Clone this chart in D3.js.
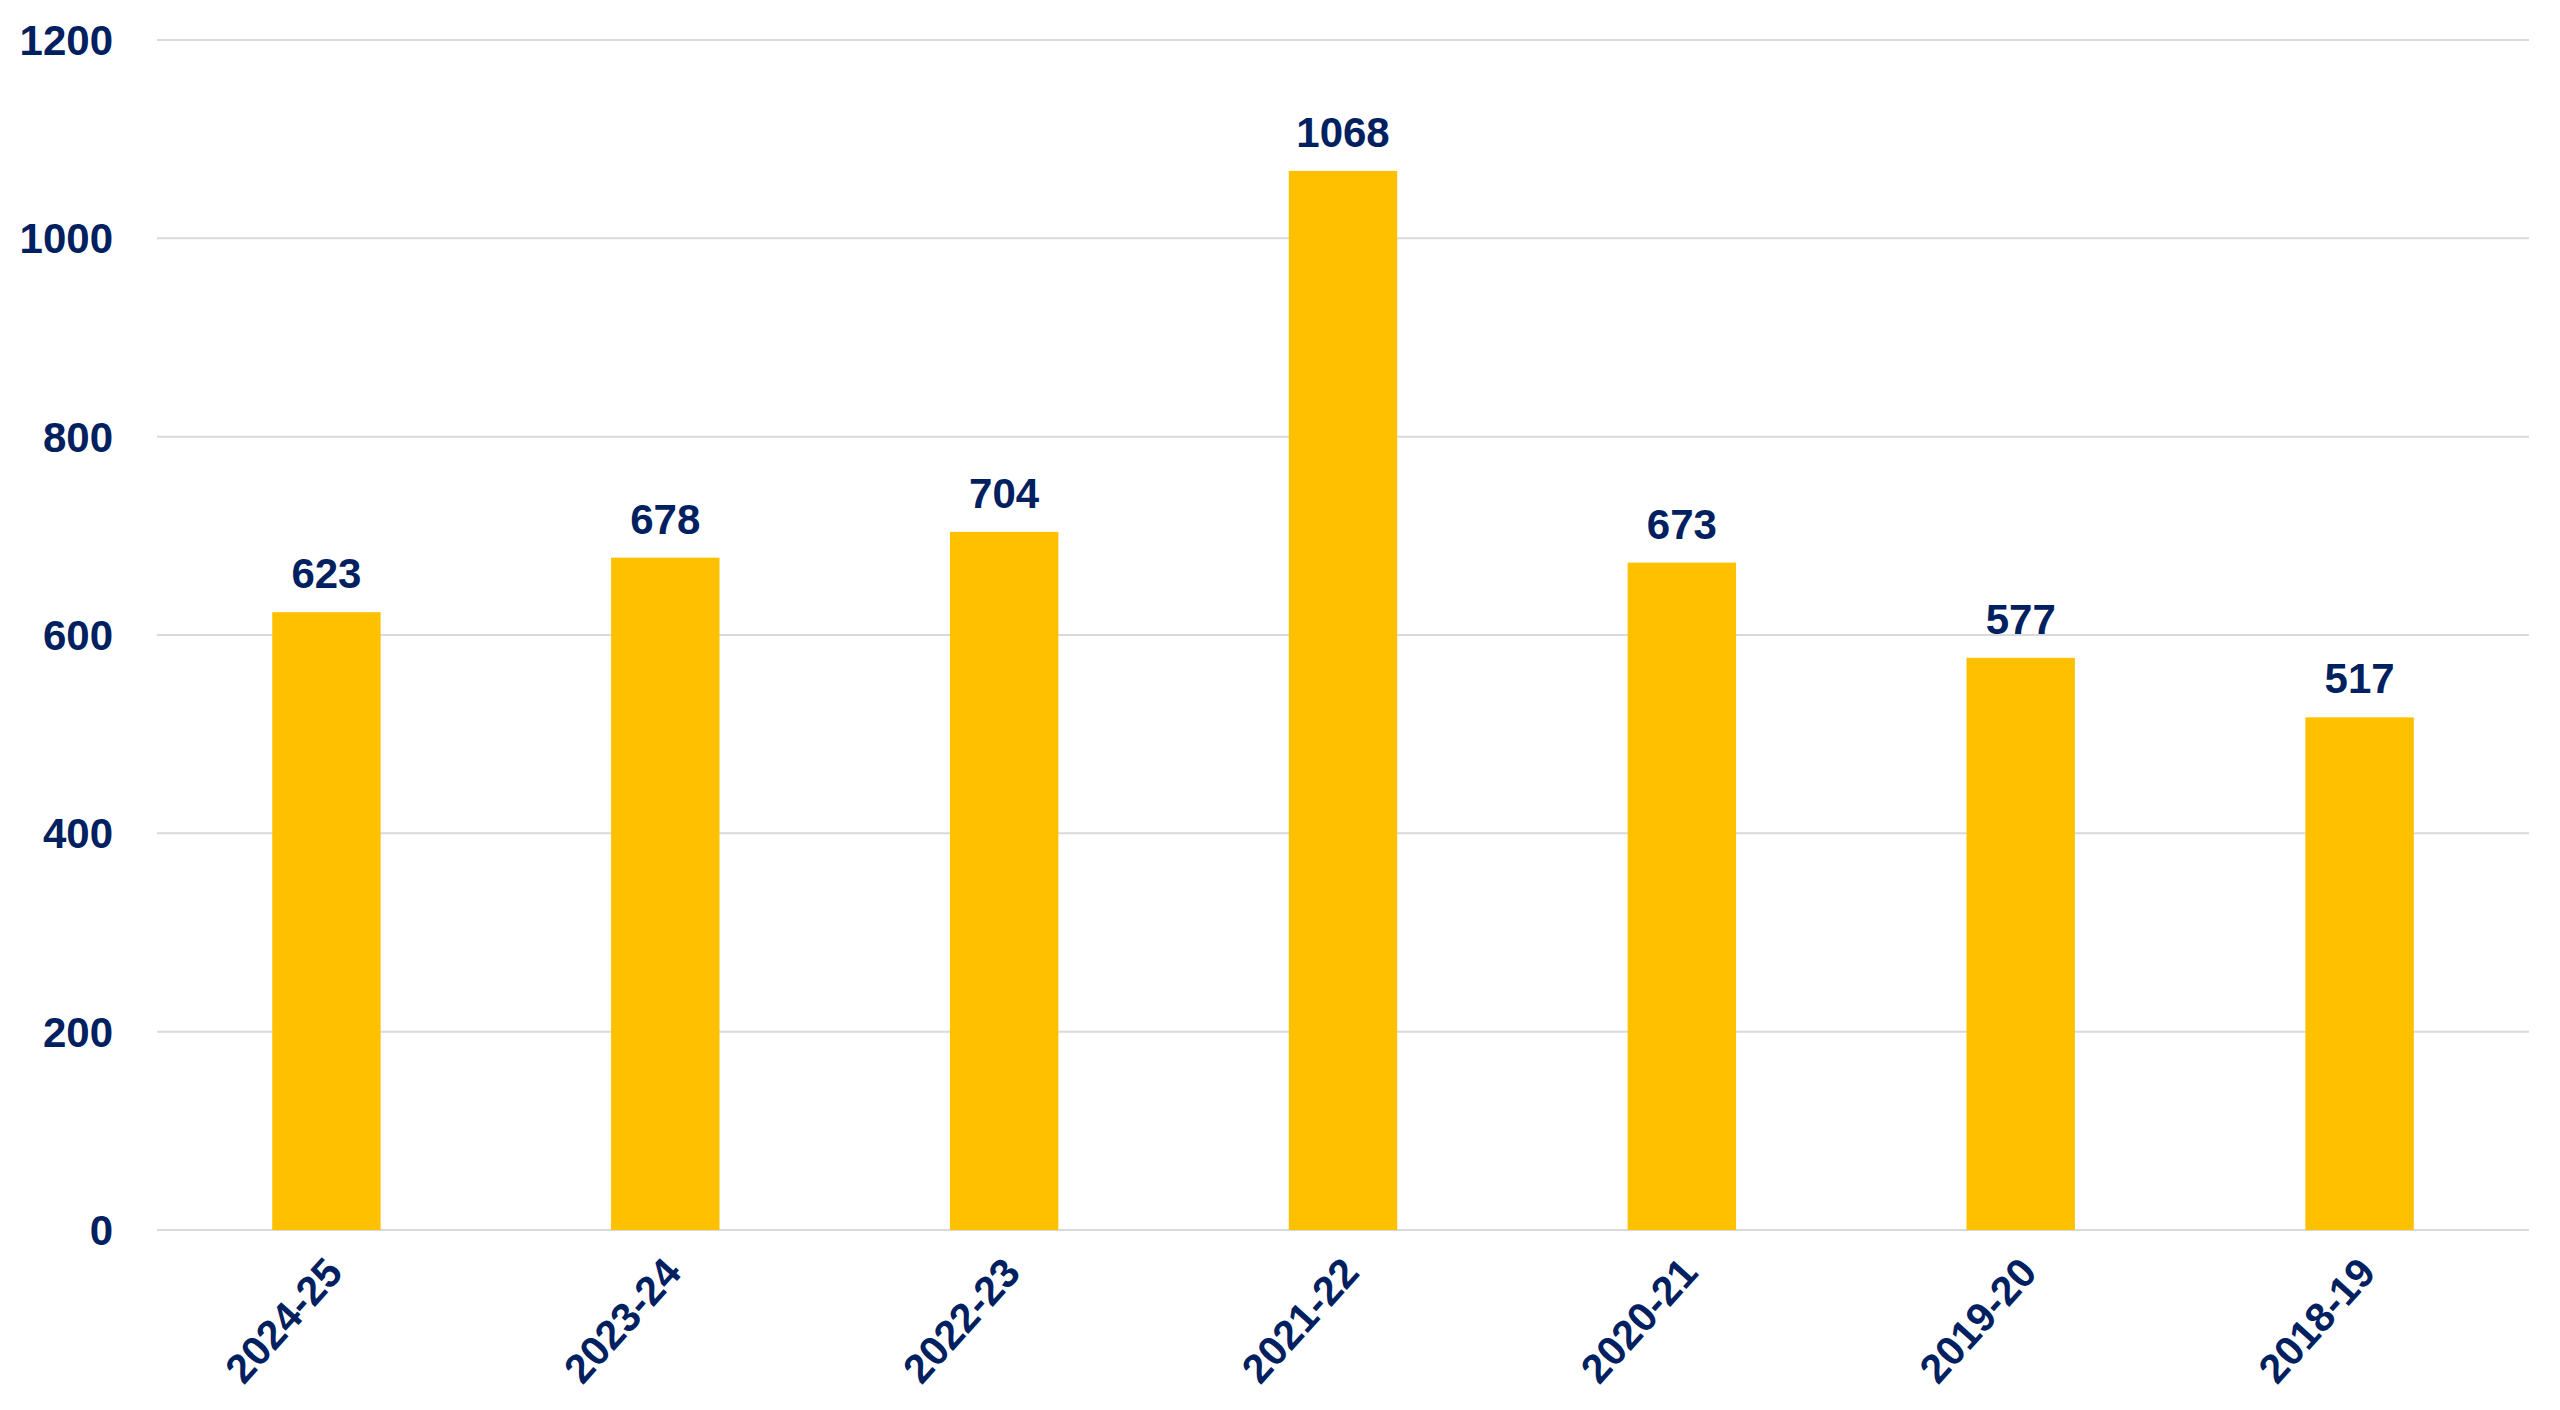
<!DOCTYPE html>
<html>
<head>
<meta charset="utf-8">
<script src="https://cdn.jsdelivr.net/npm/d3@7"></script>
<style>
  html, body { margin: 0; padding: 0; background: #ffffff; }
  svg { display: block; }
  text { font-family: "Liberation Sans", Arial, Helvetica, sans-serif; font-weight: bold; fill: #002060; }
</style>
</head>
<body>
<svg id="chart" width="2560" height="1410"></svg>
<script>
const categories = ["2024-25", "2023-24", "2022-23", "2021-22", "2020-21", "2019-20", "2018-19"];
const values = [623, 678, 704, 1068, 673, 577, 517];
const yTicks = [0, 200, 400, 600, 800, 1000, 1200];

const W = 2560, H = 1410;
const margin = { left: 157, right: 31 };
const x0 = margin.left, x1 = W - margin.right;
const yTop = 40, yBottom = 1230;

const svg = d3.select("#chart");

const x = d3.scaleBand().domain(categories).range([x0, x1]).paddingInner(0.68).paddingOuter(0.34);
const y = d3.scaleLinear().domain([0, 1200]).range([yBottom, yTop]);

// gridlines
svg.append("g").selectAll("line").data(yTicks).join("line")
  .attr("x1", x0).attr("x2", x1)
  .attr("y1", d => y(d)).attr("y2", d => y(d))
  .attr("stroke", "#d9d9d9").attr("stroke-width", 2);

// y tick labels
svg.append("g").selectAll("text").data(yTicks).join("text")
  .attr("x", 113).attr("y", d => y(d))
  .attr("dy", "0.36em")
  .attr("text-anchor", "end")
  .style("font-size", "42px")
  .text(d => d);

// bars
svg.append("g").selectAll("rect").data(values).join("rect")
  .attr("x", (d, i) => x(categories[i]))
  .attr("width", x.bandwidth())
  .attr("y", d => y(d))
  .attr("height", d => y(0) - y(d))
  .attr("fill", "#FFC000");

// value labels
svg.append("g").selectAll("text").data(values).join("text")
  .attr("x", (d, i) => x(categories[i]) + x.bandwidth() / 2)
  .attr("y", d => y(d) - 24)
  .attr("text-anchor", "middle")
  .style("font-size", "42px")
  .text(d => d);

// x labels rotated
svg.append("g").selectAll("text").data(categories).join("text")
  .attr("transform", d => `translate(${x(d) + x.bandwidth() / 2 + 18},${yBottom + 44}) rotate(-48)`)
  .attr("text-anchor", "end")
  .style("font-size", "41px")
  .text(d => d);
</script>
</body>
</html>
